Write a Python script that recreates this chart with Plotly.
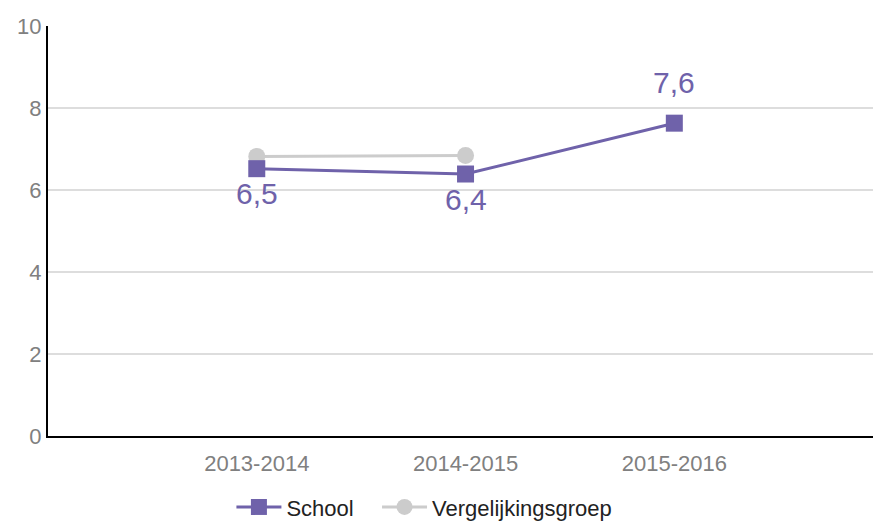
import plotly.graph_objects as go

categories = ["2013-2014", "2014-2015", "2015-2016"]
school = [6.52, 6.39, 7.63]
school_labels = ["6,5", "6,4", "7,6"]
vergelijk = [6.82, 6.84, None]
y_ticks = [0, 2, 4, 6, 8, 10]
series_names = ["School", "Vergelijkingsgroep"]

purple = "#6f62aa"
grey = "#cccccc"
label_shift = [-25, -25, 41]
pad = "\u00a0" * 3

fig = go.Figure()
fig.add_trace(go.Scatter(
    x=categories, y=vergelijk, name=series_names[1], mode="lines+markers",
    line=dict(color=grey, width=3), marker=dict(symbol="circle", size=17, color=grey),
))
fig.add_trace(go.Scatter(
    x=categories, y=school, name=series_names[0] + pad, mode="lines+markers",
    line=dict(color=purple, width=3), marker=dict(symbol="square", size=17, color=purple),
))

for c, v, t, s in zip(categories, school, school_labels, label_shift):
    fig.add_annotation(x=c, y=v, text=t, showarrow=False, yshift=s,
                       xanchor="center", yanchor="middle",
                       font=dict(size=30, color=purple, family="Liberation Sans, Arial"))

# page body has an 8px default margin, so the figure is sized to fit the 881x521 window
fig.update_layout(
    width=873, height=513,
    margin=dict(l=40, r=0, t=18, b=85),
    paper_bgcolor="white", plot_bgcolor="white",
    font=dict(family="Liberation Sans, Arial", size=22, color="#808080"),
    showlegend=True,
    legend=dict(orientation="h", xref="container", x=0.477, xanchor="center",
                yref="container", y=0.027, yanchor="middle",
                font=dict(size=22, color="#222222"), traceorder="reversed",
                itemwidth=45),
)
fig.update_xaxes(
    type="category", range=[-1, 2.99], showgrid=False, automargin=False,
    showline=True, linecolor="black", linewidth=2, ticks="", ticklabelstandoff=7,
    tickfont=dict(size=22, color="#808080"),
)
fig.update_yaxes(
    range=[0, 10], tickvals=y_ticks, showgrid=True, gridcolor="#dddddd", gridwidth=2,
    showline=True, linecolor="black", linewidth=2, zeroline=False, ticks="", automargin=False,
    tickfont=dict(size=22, color="#808080"),
)

fig.write_html("out.html")
